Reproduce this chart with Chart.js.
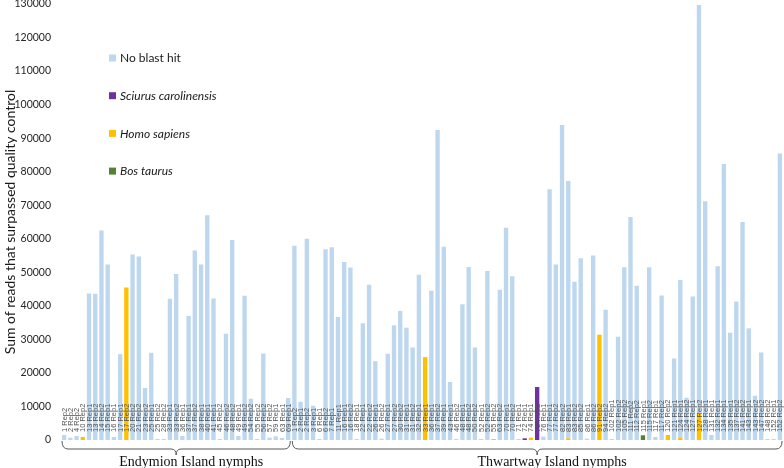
<!DOCTYPE html>
<html>
<head>
<meta charset="utf-8">
<script src="https://cdn.jsdelivr.net/npm/chart.js@4"></script>
<style>
  body { margin: 0; background: #fff; }
  #wrap { width: 784px; height: 468px; position: relative; }
</style>
</head>
<body>
<div id="wrap"><canvas id="chart"></canvas></div>
<script>
// sample names, Endymion Island first (37), then Thwartway Island (79)
const samples = [
  '1 Rep2','2 Rep2','4 Rep2','10 Rep2','13 Rep1','13 Rep2','14 Rep2','15 Rep1','16 Rep1','17 Rep1',
  '17 Rep2','20 Rep2','21 Rep2','23 Rep2','25 Rep1','25 Rep2','28 Rep2','33 Rep1','33 Rep2','36 Rep1',
  '37 Rep1','37 Rep2','38 Rep1','40 Rep1','41 Rep1','45 Rep2','46 Rep2','48 Rep2','49 Rep1','49 Rep2',
  '54 Rep2','55 Rep2','56 Rep2','57 Rep2','59 Rep1','63 Rep1','69 Rep1',
  '1 Rep2','2 Rep1','2 Rep2','3 Rep1','6 Rep1','6 Rep2','7 Rep1','11 Rep1','16 Rep1','16 Rep2',
  '18 Rep1','22 Rep1','22 Rep2','26 Rep1','26 Rep2','27 Rep1','27 Rep2','30 Rep2','31 Rep1','31 Rep2',
  '32 Rep1','33 Rep1','36 Rep1','37 Rep2','39 Rep1','43 Rep1','46 Rep2','48 Rep1','48 Rep2','50 Rep2',
  '52 Rep1','52 Rep2','55 Rep2','63 Rep2','70 Rep1','70 Rep2','71 Rep1','72 Rep1','74 Rep1','75 Rep2',
  '76 Rep1','77 Rep1','77 Rep2','82 Rep2','83 Rep1','83 Rep2','85 Rep2','86 Rep1','86 Rep2','91 Rep2',
  '94 Rep2','102 Rep1','102 Rep2','105 Rep2','111 Rep2','112 Rep2','115 Rep1','115 Rep2','117 Rep1','117 Rep2',
  '120 Rep2','121 Rep1','124 Rep1','124 Rep2','127 Rep1','127 Rep2','128 Rep1','131 Rep1','132 Rep1','134 Rep1',
  '135 Rep1','137 Rep2','141 Rep2','143 Rep1','143 Rep2','147 Rep2','148 Rep2','152 Rep1','152 Rep2'
];

const groupNames = ['Endymion Island nymphs', 'Thwartway Island nymphs'];
const groupSizes = [37, 79];

const noBlastHit = [
  1500, 700, 1200, 0, 43700, 43600, 62500, 52300, 900, 25600,
  0, 55300, 54700, 15500, 26000, 300, 300, 42100, 49500, 1200,
  37000, 56500, 52300, 67000, 42200, 300, 31700, 59600, 1200, 43000,
  12300, 300, 25800, 700, 1100, 600, 12500,
  57900, 11400, 60000, 10200, 300, 56900, 57500, 36700, 53100, 51400,
  300, 34800, 46300, 23500, 400, 25700, 34200, 38500, 33500, 27600,
  49300, 0, 44500, 92400, 57600, 17300, 300, 40500, 51600, 27600,
  300, 50400, 0, 44800, 63300, 48800, 300, 0, 0, 0,
  1000, 74800, 52300, 93900, 76700, 47200, 54200, 400, 55000, 0,
  38800, 300, 30800, 51500, 66500, 46000, 0, 51500, 900, 43100,
  0, 24300, 47100, 12600, 42800, 121700, 71200, 1500, 51800, 82300,
  32000, 41300, 65000, 33300, 13200, 26100, 300, 300, 85400
];
const sciurus = [
  0,0,0,0,0,0,0,0,0,0, 0,0,0,0,0,0,0,0,0,0, 0,0,0,0,0,0,0,0,0,0, 0,0,0,0,0,0,0,
  0,0,0,0,0,0,0,0,0,0, 0,0,0,0,0,0,0,0,0,0, 0,0,0,0,0,0,0,0,0,0,
  0,0,0,0,0,0,0,500,0,15800,
  0,0,0,0,0,0,0,0,0,0, 0,0,0,0,0,0,0,0,0,0, 0,0,0,0,0,0,0,0,0,0, 0,0,0,0,0,0,0,0,0
];
const homoSapiens = [
  0,0,0,900,0,0,0,0,0,0, 45500,0,0,0,0,0,0,0,0,0, 0,0,0,0,0,0,0,0,0,0, 0,0,0,0,0,0,0,
  0,0,0,0,0,0,0,0,0,0, 0,0,0,0,0,0,0,0,0,0, 0,24700,0,0,0,0,0,0,0,0,
  0,0,300,0,0,0,0,0,700,0,
  0,0,0,0,500,0,0,0,0,31400, 0,0,0,0,0,0,0,0,0,0,
  1500,0,600,0,0,8000,0,0,0,0, 0,0,0,0,0,0,0,0,0
];
const bosTaurus = [
  0,0,0,0,0,0,0,0,0,0, 0,0,0,0,0,0,0,0,0,0, 0,0,0,0,0,0,0,0,0,0, 0,0,0,0,0,0,0,
  0,0,0,0,0,0,0,0,0,0, 0,0,0,0,0,0,0,0,0,0, 0,0,0,0,0,0,0,0,0,0,
  0,0,0,0,0,0,0,0,0,0,
  0,0,0,0,0,0,0,0,0,0, 0,0,0,0,0,0,1400,0,0,0,
  0,0,0,0,0,0,0,0,0,0, 0,0,0,0,0,0,0,0,0
];

const yTicks = [0, 130000, 10000]; // min, max, step

// legend drawn inside the plot, top-left
const legendPlugin = {
  id: 'insideLegend',
  afterDraw(chart) {
    const ctx = chart.ctx;
    const order = [3, 1, 0, 2];
    ctx.save();
    order.forEach((di, k) => {
      const ds = chart.data.datasets[di];
      const y = 58 + k * 37.7;
      ctx.fillStyle = ds.backgroundColor;
      ctx.fillRect(109, y - 3.5, 7, 7);
      ctx.fillStyle = '#1a1a1a';
      ctx.font = (ds.italic ? 'italic ' : '') + '12px Lato';
      ctx.textBaseline = 'middle';
      ctx.textAlign = 'left';
      ctx.fillText(ds.label, 120, y + 0.5);
    });
    ctx.restore();
  }
};

// sample names written upward over the base of each bar
const sampleLabels = {
  id: 'sampleLabels',
  afterDatasetsDraw(chart) {
    const { ctx, chartArea } = chart;
    const x = chart.scales.x;
    ctx.save();
    ctx.font = '7.5px "Liberation Sans"';
    ctx.fillStyle = '#505050';
    ctx.textAlign = 'left';
    ctx.textBaseline = 'middle';
    samples.forEach((s, i) => {
      ctx.save();
      ctx.translate(x.getPixelForValue(i), chartArea.bottom - 8);
      ctx.rotate(-Math.PI / 2);
      ctx.fillText(s, 0, 0.5);
      ctx.restore();
    });
    ctx.restore();
  }
};

// curly braces + island names under the bars
const groupBraces = {
  id: 'groupBraces',
  afterDraw(chart) {
    const { ctx, chartArea } = chart;
    const x = chart.scales.x;
    const half = (x.getPixelForValue(1) - x.getPixelForValue(0)) / 2;
    let start = 0;
    ctx.save();
    ctx.strokeStyle = '#595959';
    ctx.lineWidth = 1;
    groupNames.forEach((name, g) => {
      const end = start + groupSizes[g] - 1;
      const x0 = x.getPixelForValue(start) - half + 1;
      const x1 = x.getPixelForValue(end) + half - 1;
      const xm = (x0 + x1) / 2;
      const top = chartArea.bottom + 1, mid = chartArea.bottom + 9, tip = chartArea.bottom + 15;
      ctx.beginPath();
      ctx.moveTo(x0, top);
      ctx.quadraticCurveTo(x0, mid, x0 + 6, mid);
      ctx.lineTo(xm - 5, mid);
      ctx.quadraticCurveTo(xm, mid, xm, tip);
      ctx.quadraticCurveTo(xm, mid, xm + 5, mid);
      ctx.lineTo(x1 - 6, mid);
      ctx.quadraticCurveTo(x1, mid, x1, top);
      ctx.stroke();
      ctx.fillStyle = '#111';
      ctx.font = '14px "Liberation Serif"';
      ctx.textAlign = 'center';
      ctx.textBaseline = 'middle';
      ctx.fillText(name, xm + 15, chartArea.bottom + 22);
      start = end + 1;
    });
    ctx.restore();
  }
};

new Chart(document.getElementById('chart'), {
  type: 'bar',
  data: {
    labels: samples,
    datasets: [
      { label: 'Homo sapiens', data: homoSapiens, backgroundColor: '#FFC000', italic: true },
      { label: 'Sciurus carolinensis', data: sciurus, backgroundColor: '#7030A0', italic: true },
      { label: 'Bos taurus', data: bosTaurus, backgroundColor: '#548235', italic: true },
      { label: 'No blast hit', data: noBlastHit, backgroundColor: '#BDD7EE', italic: false }
    ]
  },
  options: {
    responsive: true,
    maintainAspectRatio: false,
    animation: false,
    barPercentage: 0.7,
    categoryPercentage: 1.0,
    layout: { padding: { top: 4, right: 1, bottom: 28, left: 0 } },
    plugins: {
      legend: { display: false },
      tooltip: { enabled: false }
    },
    scales: {
      x: {
        stacked: true,
        display: false
      },
      y: {
        stacked: true,
        min: yTicks[0],
        max: yTicks[1],
        ticks: {
          stepSize: yTicks[2],
          padding: 10,
          color: '#262626',
          font: { family: 'Lato', size: 10.5 },
          callback: (v) => String(v)
        },
        grid: { display: false, drawTicks: false },
        border: { display: false },
        title: {
          display: true,
          text: 'Sum of reads that surpassed quality control',
          color: '#1a1a1a',
          font: { family: 'Lato', size: 14 },
          padding: { top: 2, bottom: 0 }
        },
        afterFit(scale) {
          scale.width = 61;
          scale.paddingTop = 0;
          scale.paddingBottom = 0;
        }
      }
    }
  },
  plugins: [sampleLabels, groupBraces, legendPlugin]
});
</script>
</body>
</html>
